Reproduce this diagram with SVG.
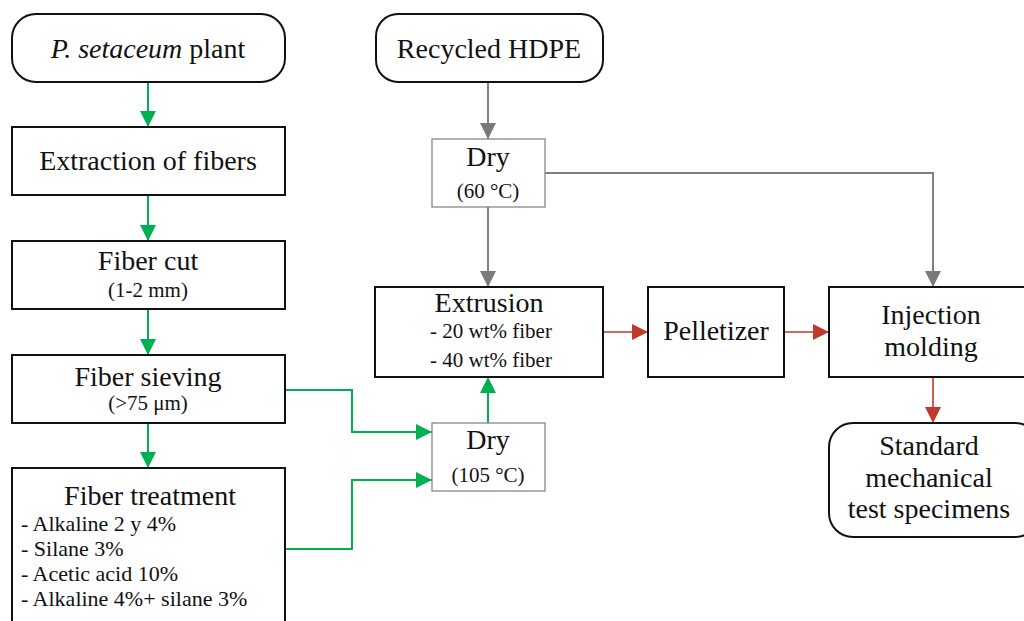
<svg xmlns="http://www.w3.org/2000/svg" width="1024" height="621" viewBox="0 0 1024 621">
<style>
text{font-family:"Liberation Serif","Times New Roman",serif;fill:#111;text-anchor:middle}
.t{font-size:28px}
.s{font-size:21px}
.l{font-size:22px;text-anchor:start}
.box{fill:#fff;stroke:#111;stroke-width:2}
.dry{fill:#fff;stroke:#888;stroke-width:1.3}
.g{fill:none;stroke:#00b050;stroke-width:2}
.gr{fill:none;stroke:#808080;stroke-width:2}
.r{fill:none;stroke:#c0392b;stroke-width:1.6}
</style>
<defs>
<marker id="agr" markerWidth="16" markerHeight="16" refX="16" refY="8" orient="auto" markerUnits="userSpaceOnUse" viewBox="0 0 16 16"><path d="M0,0 L16,8 L0,16 z" fill="#7a7a7a"/></marker>
<marker id="agg" markerWidth="16" markerHeight="16" refX="16" refY="8" orient="auto" markerUnits="userSpaceOnUse" viewBox="0 0 16 16"><path d="M0,0 L16,8 L0,16 z" fill="#00b050"/></marker>
<marker id="ar" markerWidth="16" markerHeight="16" refX="16" refY="8" orient="auto" markerUnits="userSpaceOnUse" viewBox="0 0 16 16"><path d="M0,0 L16,8 L0,16 z" fill="#c0392b"/></marker>
</defs>
<g id="connectors">
<path class="g" d="M148,82 V127" marker-end="url(#agg)"/>
<path class="g" d="M148,195 V241" marker-end="url(#agg)"/>
<path class="g" d="M148,309 V355" marker-end="url(#agg)"/>
<path class="g" d="M148,423 V468" marker-end="url(#agg)"/>
<path class="g" d="M285,390 H352 V432 H432" marker-end="url(#agg)"/>
<path class="g" d="M285,549 H352 V480 H432" marker-end="url(#agg)"/>
<path class="g" d="M488,423 V377" marker-end="url(#agg)"/>
<path class="gr" d="M488,82 V139" marker-end="url(#agr)"/>
<path class="gr" d="M488,207 V287" marker-end="url(#agr)"/>
<path class="gr" d="M545,173 H933 V287" marker-end="url(#agr)"/>
<path class="r" d="M603,332 H648" marker-end="url(#ar)"/>
<path class="r" d="M784,332 H829" marker-end="url(#ar)"/>
<path class="r" d="M933,377 V423" marker-end="url(#ar)"/>
</g>
<g id="plant">
<rect class="box" x="12" y="14" width="273" height="68" rx="24"/>
<text class="t" x="148" y="58"><tspan font-style="italic">P. setaceum</tspan> plant</text>
</g>
<g id="extraction">
<rect class="box" x="12" y="127" width="273" height="68"/>
<text class="t" x="148" y="170">Extraction of fibers</text>
</g>
<g id="cut">
<rect class="box" x="12" y="241" width="273" height="68"/>
<text class="t" x="148" y="270">Fiber cut</text>
<text class="s" x="148" y="297">(1-2 mm)</text>
</g>
<g id="sieving">
<rect class="box" x="12" y="355" width="273" height="68"/>
<text class="t" x="148" y="386">Fiber sieving</text>
<text class="s" x="148" y="410" font-size="19">(&gt;75 μm)</text>
</g>
<g id="treatment">
<rect class="box" x="12" y="468" width="273" height="160"/>
<text class="t" x="150" y="505">Fiber treatment</text>
<text class="l" x="21" y="531">- Alkaline 2 y 4%</text>
<text class="l" x="21" y="556">- Silane 3%</text>
<text class="l" x="21" y="581">- Acetic acid 10%</text>
<text class="l" x="21" y="606">- Alkaline 4%+ silane 3%</text>
</g>
<g id="hdpe">
<rect class="box" x="376" y="14" width="227" height="68" rx="22"/>
<text class="t" x="489" y="58">Recycled HDPE</text>
</g>
<g id="dry60">
<rect class="dry" x="432" y="139" width="113" height="68"/>
<text class="t" x="488" y="166">Dry</text>
<text class="s" x="488" y="198">(60 °C)</text>
</g>
<g id="extrusion">
<rect class="box" x="375" y="287" width="228" height="90"/>
<text class="t" x="489" y="312">Extrusion</text>
<text class="s" x="491" y="338">- 20 wt% fiber</text>
<text class="s" x="491" y="367">- 40 wt% fiber</text>
</g>
<g id="dry105">
<rect class="dry" x="432" y="423" width="113" height="68"/>
<text class="t" x="488" y="449">Dry</text>
<text class="s" x="488" y="482">(105 °C)</text>
</g>
<g id="pelletizer">
<rect class="box" x="648" y="287" width="136" height="90"/>
<text class="t" x="716" y="340">Pelletizer</text>
</g>
<g id="injection">
<rect class="box" x="829" y="287" width="210" height="90"/>
<text class="t" x="931" y="324">Injection</text>
<text class="t" x="931" y="356">molding</text>
</g>
<g id="specimens">
<rect class="box" x="829" y="423" width="210" height="114" rx="24"/>
<text class="t" x="929" y="455">Standard</text>
<text class="t" x="929" y="487">mechanical</text>
<text class="t" x="929" y="518">test specimens</text>
</g>
</svg>
